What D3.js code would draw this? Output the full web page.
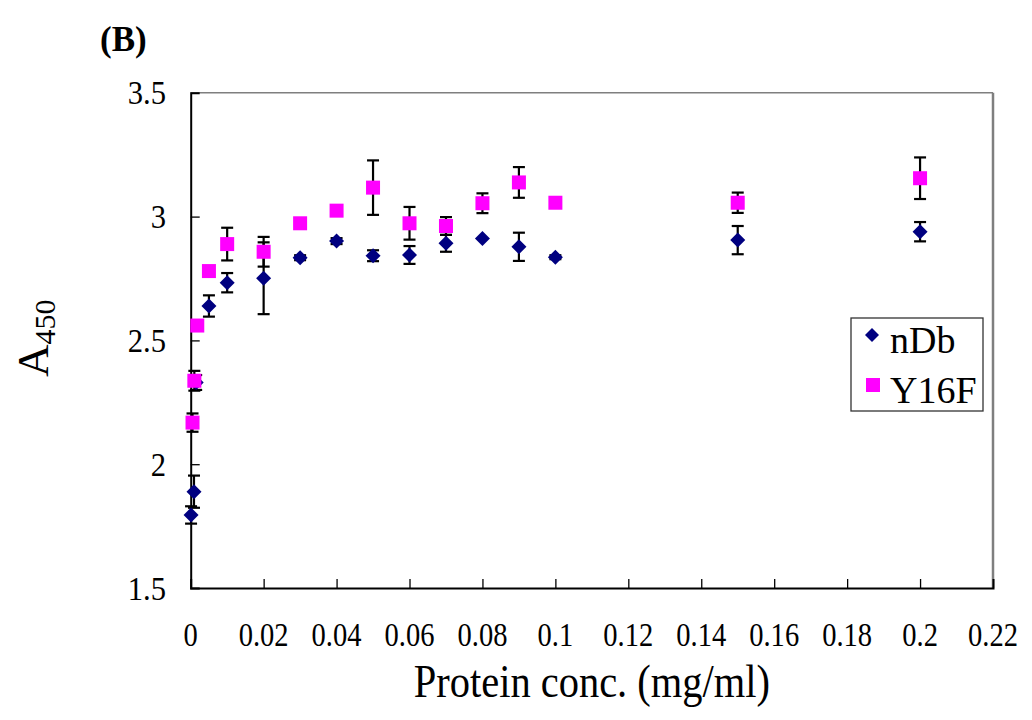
<!DOCTYPE html>
<html>
<head>
<meta charset="utf-8">
<script src="https://cdn.jsdelivr.net/npm/d3@7/dist/d3.min.js"></script>
<style>
  html, body { margin: 0; padding: 0; background: #fff; }
  svg { display: block; }
  text { font-family: "Liberation Serif", "Times New Roman", serif; fill: #000; }
</style>
</head>
<body>
<svg id="chart" width="1032" height="720"></svg>
<script>
// ---- data ----
const nDbX   = [0.0001, 0.0009, 0.0015, 0.005, 0.01, 0.02, 0.03, 0.04, 0.05, 0.06, 0.07, 0.08, 0.09, 0.1, 0.15, 0.2];
const nDbY   = [1.795, 1.889, 2.33, 2.639, 2.733, 2.751, 2.834, 2.901, 2.842, 2.845, 2.892, 2.912, 2.878, 2.836, 2.905, 2.939];
const nDbErr = [0.035, 0.065, 0.03, 0.043, 0.039, 0.145, 0.01, 0.012, 0.022, 0.036, 0.034, 0.0, 0.057, 0.008, 0.057, 0.039];

const y16fX   = [0.0005, 0.001, 0.0018, 0.005, 0.01, 0.02, 0.03, 0.04, 0.05, 0.06, 0.07, 0.08, 0.09, 0.1, 0.15, 0.2];
const y16fY   = [2.168, 2.337, 2.56, 2.78, 2.889, 2.858, 2.973, 3.024, 3.117, 2.973, 2.962, 3.054, 3.138, 3.056, 3.056, 3.155];
const y16fErr = [0.037, 0.04, 0.0, 0.0, 0.066, 0.06, 0.0, 0.0, 0.11, 0.066, 0.036, 0.04, 0.062, 0.0, 0.041, 0.084];

const xTicks = [0, 0.02, 0.04, 0.06, 0.08, 0.1, 0.12, 0.14, 0.16, 0.18, 0.2, 0.22];
const yTicks = [1.5, 2, 2.5, 3, 3.5];
const seriesNames = ["nDb", "Y16F"];
const panelLabel = "(B)";
const xTitle = "Protein conc. (mg/ml)";

// ---- layout ----
const svg = d3.select("#chart");
const L = 190.7, R = 993, T = 92.8, B = 588;
const x = d3.scaleLinear().domain([0, 0.22]).range([L, R]);
const y = d3.scaleLinear().domain([1.5, 3.5]).range([B, T]);

// plot border (top/right gray)
svg.append("line").attr("x1", L).attr("x2", R).attr("y1", T).attr("y2", T)
  .attr("stroke", "#7f7f7f").attr("stroke-width", 1.5);
svg.append("line").attr("x1", R).attr("x2", R).attr("y1", T).attr("y2", B)
  .attr("stroke", "#7f7f7f").attr("stroke-width", 2.5);

// axes
const xAxis = d3.axisBottom(x).tickValues(xTicks).tickSize(-9).tickFormat("");
const gx = svg.append("g").attr("transform", `translate(0,${B})`).call(xAxis);
gx.select(".domain").attr("stroke", "#000").attr("stroke-width", 2);
gx.selectAll(".tick line").attr("stroke", "#000").attr("stroke-width", 1.3);
gx.selectAll(".tick").filter(d => d === 0 || d === 0.22).select("line").remove();

const yAxis = d3.axisLeft(y).tickValues(yTicks).tickSize(-9).tickFormat("");
const gy = svg.append("g").attr("transform", `translate(${L},0)`).call(yAxis);
gy.select(".domain").attr("stroke", "#000").attr("stroke-width", 2);
gy.selectAll(".tick line").attr("stroke", "#000").attr("stroke-width", 1.3);
gy.selectAll(".tick").filter(d => d === 1.5 || d === 3.5).select("line").remove();

// tick labels
const fmt = d => String(d);
svg.append("g").selectAll("text").data(xTicks).join("text")
  .attr("transform", d => `translate(${x(d)},646) scale(0.84,1)`)
  .attr("text-anchor", "middle")
  .attr("font-size", 34)
  .text(fmt);

svg.append("g").selectAll("text").data(yTicks).join("text")
  .attr("transform", d => `translate(166,${y(d) + 11.5}) scale(0.9,1)`)
  .attr("text-anchor", "end")
  .attr("font-size", 34)
  .text(fmt);

// titles
svg.append("text").attr("x", 100).attr("y", 51)
  .attr("font-size", 35).attr("font-weight", "bold").text(panelLabel);

svg.append("text")
  .attr("transform", `translate(${(L + R) / 2},697) scale(0.88,1)`)
  .attr("text-anchor", "middle").attr("font-size", 46).text(xTitle);

const yt = svg.append("text").attr("transform", "translate(48,377) rotate(-90)");
yt.append("tspan").attr("font-size", 45).text("A");
yt.append("tspan").attr("font-size", 30).attr("dy", 7).text("450");

// error bars
const series = [
  { name: seriesNames[0], xs: nDbX, ys: nDbY, es: nDbErr },
  { name: seriesNames[1], xs: y16fX, ys: y16fY, es: y16fErr }
];
const eg = svg.append("g").attr("stroke", "#000").attr("stroke-width", 2.2);
series.forEach(s => {
  s.xs.forEach((xv, i) => {
    const e = s.es[i];
    if (!e) return;
    const cx = x(xv), y1 = y(s.ys[i] + e), y2 = y(s.ys[i] - e);
    eg.append("line").attr("x1", cx).attr("x2", cx).attr("y1", y1).attr("y2", y2);
    eg.append("line").attr("x1", cx - 6).attr("x2", cx + 6).attr("y1", y1).attr("y2", y1);
    eg.append("line").attr("x1", cx - 6).attr("x2", cx + 6).attr("y1", y2).attr("y2", y2);
  });
});

// markers
const diamond = (cx, cy, r) => `M${cx},${cy - r}L${cx + r},${cy}L${cx},${cy + r}L${cx - r},${cy}Z`;
svg.append("g").selectAll("path").data(nDbX.map((d, i) => [d, nDbY[i]])).join("path")
  .attr("d", d => diamond(x(d[0]), y(d[1]), 7.5))
  .attr("fill", "#000080");
svg.append("g").selectAll("rect").data(y16fX.map((d, i) => [d, y16fY[i]])).join("rect")
  .attr("x", d => x(d[0]) - 7).attr("y", d => y(d[1]) - 7)
  .attr("width", 14).attr("height", 14)
  .attr("fill", "#ff00ff");

// legend
const lg = svg.append("g");
lg.append("rect").attr("x", 851).attr("y", 318).attr("width", 132).attr("height", 93)
  .attr("fill", "#fff").attr("stroke", "#333").attr("stroke-width", 1.3);
lg.append("path").attr("d", diamond(872, 335, 7)).attr("fill", "#000080");
lg.append("rect").attr("x", 866).attr("y", 378).attr("width", 14).attr("height", 14).attr("fill", "#ff00ff");
lg.append("text").attr("x", 890).attr("y", 353).attr("font-size", 38).text(seriesNames[0]);
lg.append("text").attr("x", 890).attr("y", 403).attr("font-size", 38).text(seriesNames[1]);
</script>
</body>
</html>
